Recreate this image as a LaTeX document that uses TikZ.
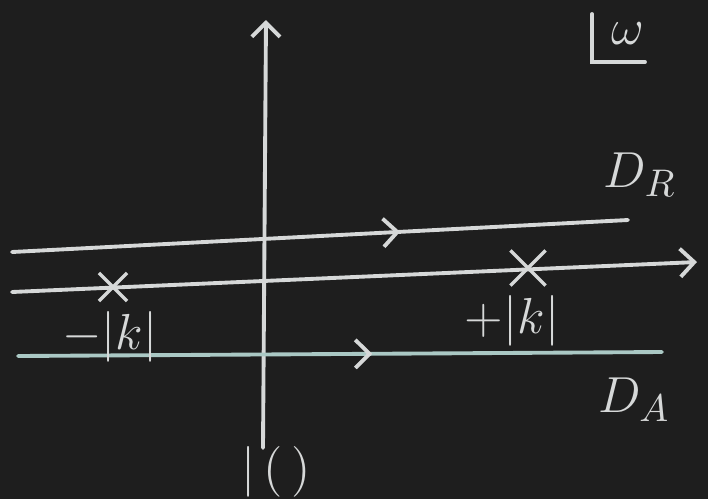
\documentclass[tikz,border=0pt]{standalone}
\usetikzlibrary{positioning,arrows.meta,decorations.markings,shapes.misc}

\definecolor{board}{RGB}{30,30,30}
\definecolor{chalk}{RGB}{214,216,216}
\definecolor{tealchalk}{RGB}{170,200,196}

\begin{document}
\begin{tikzpicture}[
  x=0.01cm,y=-0.01cm,
  >={Straight Barb[length=4pt,width=8pt]},
  node distance=4mm,
  font=\fontsize{15}{17}\selectfont,
  chalkline/.style={draw=chalk,line width=1.1pt,line cap=round},
  contour/.style={chalkline,postaction={decorate},
    decoration={markings,mark=at position #1 with {\arrow[chalk,line width=1.1pt]{>}}}},
  pole/.style={cross out,draw=chalk,line width=1pt,minimum size=7pt,inner sep=0pt},
  lbl/.style={text=chalk}
]
  \fill[board] (0,0) rectangle (708,499);
  \useasboundingbox (0,0) rectangle (708,499);

  % axes
  \coordinate (imB) at (263,448);
  \coordinate (imT) at (266,20);
  \coordinate (reL) at (12,292);
  \coordinate (reR) at (697,262);
  \draw[chalkline,->] (imB) -- (imT);
  \draw[chalkline,->] (reL) -- (reR);

  % contours
  \coordinate (drL) at (12,252);
  \coordinate (drR) at (628,220);
  \coordinate (daL) at (18,356);
  \coordinate (daR) at (662,352);
  \draw[contour=0.63] (drL) -- (drR);
  \draw[contour=0.55,draw=tealchalk] (daL) -- (daR);

  % poles
  \node[pole] (kneg) at (113,287) {};
  \node[pole,minimum size=9pt] (kpos) at (528,268) {};
  \node[lbl] (kneglbl) at (110,337) {$-|k|$};
  \node[lbl] (kposlbl) at (512,321) {$+|k|$};

  % labels
  \node[lbl] (dr) at (640,175) {$D_R$};
  \node[lbl] (da) at (634,400) {$D_A$};
  \node[lbl] (omega) at (628,34) {$\omega$};
  \draw[chalkline] (592,14) |- (645,62);
  \node[lbl] (bot) at (276,472) {$|\,(\,)$};
\end{tikzpicture}
\end{document}
